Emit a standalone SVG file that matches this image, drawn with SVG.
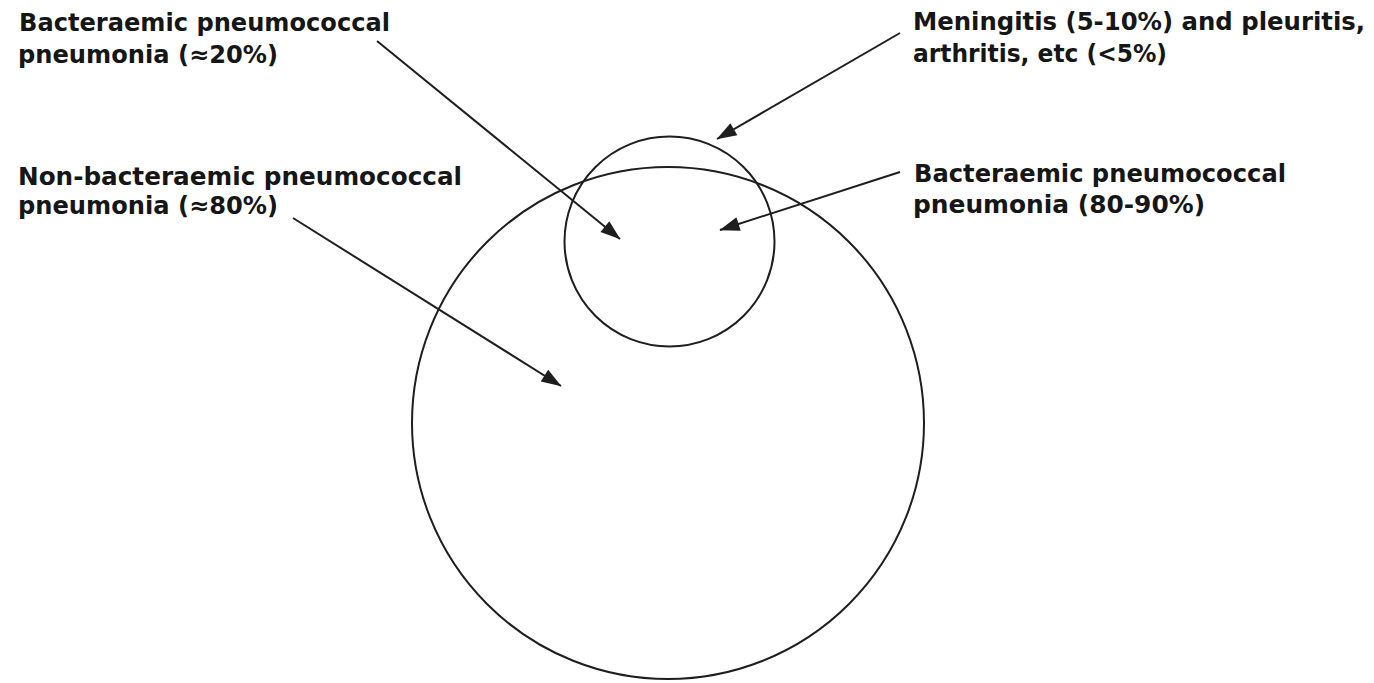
<svg xmlns="http://www.w3.org/2000/svg" width="1374" height="683" viewBox="0 0 1374 683">
<style>
.lbl{font-family:"DejaVu Sans","Liberation Sans",sans-serif;font-weight:bold;font-size:24px;fill:#161616}
.ring{fill:none;stroke:#1e1e1e;stroke-width:2}
.conn{stroke:#1e1e1e;stroke-width:2;fill:none}
</style>
<defs>
<marker id="ah" viewBox="0 0 10 10" refX="9.5" refY="5" markerWidth="10" markerHeight="10" markerUnits="userSpaceOnUse" orient="auto" overflow="visible">
<path d="M-10,-2 L10,5 L-10,12 Z" fill="#1e1e1e"/>
</marker>
</defs>
<rect width="1374" height="683" fill="#ffffff"/>
<g id="big-circle"><circle class="ring" cx="668" cy="423" r="256"/></g>
<g id="small-circle"><circle class="ring" cx="669.5" cy="241.5" r="105"/></g>
<g id="label-bact20">
<text class="lbl" x="19" y="31" textLength="371" lengthAdjust="spacingAndGlyphs">Bacteraemic pneumococcal</text>
<text class="lbl" x="18" y="63" textLength="260" lengthAdjust="spacingAndGlyphs">pneumonia (≈20%)</text>
</g>
<g id="label-meningitis">
<text class="lbl" x="913" y="30" textLength="452" lengthAdjust="spacingAndGlyphs">Meningitis (5-10%) and pleuritis,</text>
<text class="lbl" x="913" y="62" textLength="254" lengthAdjust="spacingAndGlyphs">arthritis, etc (&lt;5%)</text>
</g>
<g id="label-nonbact">
<text class="lbl" x="18" y="185" textLength="444" lengthAdjust="spacingAndGlyphs">Non-bacteraemic pneumococcal</text>
<text class="lbl" x="18" y="214" textLength="260" lengthAdjust="spacingAndGlyphs">pneumonia (≈80%)</text>
</g>
<g id="label-bact8090">
<text class="lbl" x="914" y="182" textLength="372" lengthAdjust="spacingAndGlyphs">Bacteraemic pneumococcal</text>
<text class="lbl" x="913" y="213" textLength="292" lengthAdjust="spacingAndGlyphs">pneumonia (80-90%)</text>
</g>
<g id="connectors">
<line class="conn" x1="377" y1="41" x2="620" y2="239" marker-end="url(#ah)"/>
<line class="conn" x1="900" y1="33" x2="717" y2="139" marker-end="url(#ah)"/>
<line class="conn" x1="900" y1="172" x2="720" y2="230" marker-end="url(#ah)"/>
<line class="conn" x1="293" y1="218" x2="561" y2="386" marker-end="url(#ah)"/>
</g>
</svg>
